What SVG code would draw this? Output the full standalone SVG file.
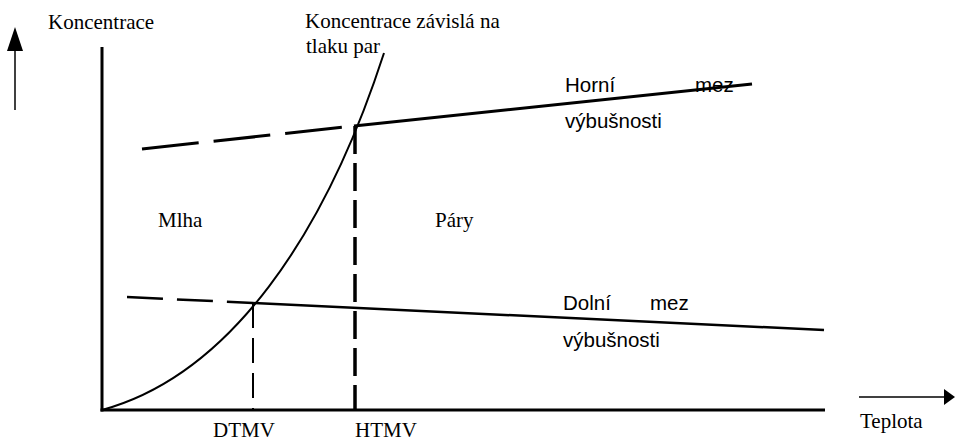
<svg xmlns="http://www.w3.org/2000/svg" width="955" height="443" viewBox="0 0 955 443">
  <style>
    .serif { font-family: "Liberation Serif", "Times New Roman", serif; font-size: 21px; fill: #000; }
    .sans { font-family: "Liberation Sans", Arial, sans-serif; font-size: 20.5px; fill: #000; }
    .ln { stroke: #000; fill: none; }
  </style>
  <rect width="955" height="443" fill="#fff"/>

  <g id="axes">
    <line class="ln" x1="102" y1="47" x2="102" y2="411.5" stroke-width="3"/>
    <line class="ln" x1="100.5" y1="410" x2="825" y2="410" stroke-width="3"/>
    <line class="ln" x1="15" y1="110" x2="15" y2="50" stroke-width="1.5"/>
    <path d="M15,27 L23,51 L7,51 Z" fill="#000"/>
    <line class="ln" x1="859" y1="397" x2="945" y2="397" stroke-width="1.5"/>
    <path d="M955,397 L944,389 L944,405 Z" fill="#000"/>
  </g>

  <g id="connectors">
    <line class="ln" x1="142" y1="149" x2="354" y2="126" stroke-width="3" stroke-dasharray="57 15"/>
    <line class="ln" x1="354" y1="126" x2="752" y2="84" stroke-width="3"/>
    <line class="ln" x1="127" y1="297" x2="253" y2="303" stroke-width="2.5" stroke-dasharray="36 14"/>
    <line class="ln" x1="253" y1="303" x2="824" y2="330" stroke-width="2.5"/>
    <path class="ln" d="M102,410 C230,375 325,235 384,53" stroke-width="2"/>
    <line class="ln" x1="253" y1="303" x2="253" y2="410" stroke-width="2" stroke-dasharray="25 10"/>
    <line class="ln" x1="355" y1="126" x2="355" y2="410" stroke-width="3.5" stroke-dasharray="28 9"/>
  </g>

  <g id="labels">
    <text class="serif" x="48" y="29">Koncentrace</text>
    <text class="serif" x="305" y="28">Koncentrace závislá na</text>
    <text class="serif" x="306" y="53">tlaku par</text>
    <text class="sans" x="565" y="92">Horní</text>
    <text class="sans" x="695" y="92">mez</text>
    <text class="sans" x="565" y="128">výbušnosti</text>
    <text class="sans" x="563" y="310">Dolní</text>
    <text class="sans" x="650" y="310">mez</text>
    <text class="sans" x="563" y="347">výbušnosti</text>
    <text class="serif" x="158" y="227">Mlha</text>
    <text class="serif" x="435" y="227">Páry</text>
    <text class="serif" x="213" y="437">DTMV</text>
    <text class="serif" x="355" y="437">HTMV</text>
    <text class="serif" x="860" y="428">Teplota</text>
  </g>
</svg>
